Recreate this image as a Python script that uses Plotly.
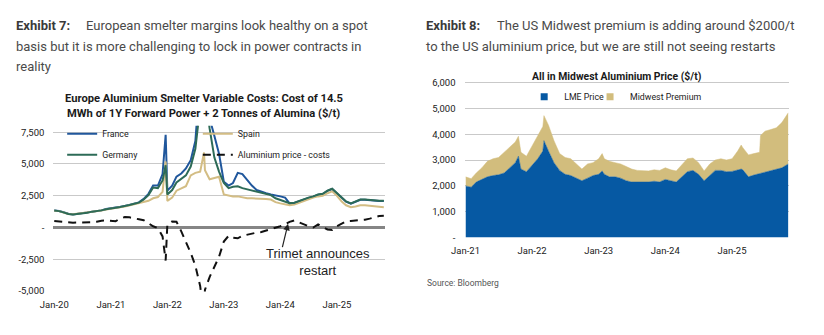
import plotly.graph_objects as go

# ---------- Exhibit 7: European smelter variable costs ($/t) ----------
eu_dates = [
    "2020-01-01", "2020-02-01", "2020-03-01", "2020-04-01", "2020-05-01", "2020-06-01",
    "2020-07-01", "2020-08-01", "2020-09-01", "2020-10-01", "2020-11-01", "2020-12-01",
    "2021-01-01", "2021-02-01", "2021-03-01", "2021-04-01", "2021-05-01", "2021-06-01",
    "2021-07-01", "2021-08-01", "2021-09-01", "2021-10-01", "2021-11-01", "2021-12-01",
    "2021-12-21",
    "2022-01-01", "2022-02-01", "2022-03-01", "2022-04-01", "2022-05-01", "2022-06-01",
    "2022-07-01", "2022-08-01", "2022-08-26", "2022-09-01", "2022-10-01", "2022-11-01",
    "2022-12-01",
    "2023-01-01", "2023-02-01", "2023-03-01", "2023-04-01", "2023-05-01", "2023-06-01",
    "2023-07-01", "2023-08-01", "2023-09-01", "2023-10-01", "2023-11-01", "2023-12-01",
    "2024-01-01", "2024-02-01", "2024-03-01", "2024-04-01", "2024-05-01", "2024-06-01",
    "2024-07-01", "2024-08-01", "2024-09-01", "2024-10-01", "2024-11-01", "2024-12-01",
    "2025-01-01", "2025-02-01", "2025-03-01", "2025-04-01", "2025-05-01", "2025-06-01",
    "2025-07-01", "2025-08-01", "2025-09-01", "2025-10-01", "2025-10-31",
]
france = [
    1330, 1300, 1200, 1080, 1030, 1080, 1130, 1180, 1260, 1300, 1350, 1450,
    1530, 1580, 1620, 1680, 1780, 1880, 1980, 2250, 2650, 3300, 3300, 4200,
    7300,
    2900, 3300, 4000, 4250, 4650, 5300, 6800, 11000, 16000, 13000, 8600, 7200,
    5800,
    3600, 3300, 3500, 4300, 4200, 3700, 3300, 2950, 2800, 2700, 2600, 2550,
    2450, 2350, 1900, 1930, 2080, 2180, 2330, 2430, 2580, 2630, 2880, 3030,
    2680, 2280, 2030, 1880, 2030, 2180, 2180, 2130, 2130, 2080, 2080,
]
germany = [
    1330, 1290, 1190, 1070, 1030, 1070, 1120, 1170, 1250, 1290, 1350, 1440,
    1520, 1560, 1610, 1670, 1770, 1870, 1960, 2200, 2550, 3150, 3100, 3700,
    4900,
    2600, 2950, 3550, 3850, 4100, 4800, 6200, 9500, 14000, 10500, 7800, 5500,
    4400,
    3500, 3100, 3200, 3250, 3100, 3000, 2900, 2850, 2750, 2650, 2550, 2300,
    2150, 2000, 1920, 1950, 2100, 2200, 2350, 2450, 2600, 2650, 2900, 3050,
    2700, 2300, 2050, 1900, 2050, 2200, 2200, 2150, 2150, 2100, 2100,
]
spain = [
    1320, 1290, 1180, 1060, 1040, 1080, 1120, 1170, 1230, 1280, 1330, 1420,
    1500, 1560, 1600, 1650, 1740, 1830, 1900, 2050, 2100, 2300, 2400, 2800,
    5200,
    2100, 2350, 2900, 3050, 3250, 4100, 4300, 4400, 5900, 4500, 3800, 3900,
    4000,
    2600, 2500, 2450, 2450, 2350, 2300, 2300, 2300, 2300, 2250, 2200, 2000,
    1900, 1800, 1750, 1800, 1950, 2100, 2250, 2350, 2450, 2500, 2700, 2850,
    2500, 2050, 1750, 1600, 1650, 1750, 1750, 1700, 1700, 1650, 1600,
]
alu_margin = [
    520, 470, 430, 390, 380, 390, 390, 400, 410, 450, 540, 560,
    510, 500, 700, 820, 800, 700, 650, 580, 350, 100, -50, -700,
    -2600,
    250, 480, 450, -300, -1100, -2000, -3000, -4600, -7000, -4900, -3900, -3100,
    -2300,
    -1100, -650, -800, -850, -650, -550, -450, -400, -350, -250, -130, -50,
    100, 250, 450, 560, 400, 250, 100, 0, 250, 50, -150, -200,
    100, 300, 500, 520, 550, 580, 620, 700, 820, 900, 920,
]
eu_ticks = ["2020-01-01", "2021-01-01", "2022-01-01", "2023-01-01", "2024-01-01", "2025-01-01"]
eu_tick_text = ["Jan-20", "Jan-21", "Jan-22", "Jan-23", "Jan-24", "Jan-25"]
eu_y_ticks = [-5000, -2500, 0, 2500, 5000, 7500]
eu_y_text = ["-5,000", "-2,500", "-", "2,500", "5,000", "7,500"]

# ---------- Exhibit 8: all-in Midwest aluminium price ($/t) ----------
us_dates = [
    "2021-01-01", "2021-02-01", "2021-03-01", "2021-04-01", "2021-05-01", "2021-06-01",
    "2021-07-01", "2021-08-01", "2021-09-01", "2021-10-01", "2021-10-18", "2021-11-01",
    "2021-12-01",
    "2022-01-01", "2022-02-01", "2022-03-01", "2022-03-07", "2022-04-01", "2022-05-01",
    "2022-06-01", "2022-07-01", "2022-08-01", "2022-09-01", "2022-10-01", "2022-11-01",
    "2022-12-01",
    "2023-01-01", "2023-01-20", "2023-02-01", "2023-03-01", "2023-04-01", "2023-05-01",
    "2023-06-01", "2023-07-01", "2023-08-01", "2023-09-01", "2023-10-01", "2023-11-01",
    "2023-12-01",
    "2024-01-01", "2024-02-01", "2024-03-01", "2024-04-01", "2024-05-01", "2024-06-01",
    "2024-07-01", "2024-08-01", "2024-09-01", "2024-10-01", "2024-11-01", "2024-12-01",
    "2025-01-01", "2025-02-01", "2025-02-20", "2025-03-01", "2025-04-01", "2025-05-01",
    "2025-06-01", "2025-06-06", "2025-07-01", "2025-08-01", "2025-09-01", "2025-10-01",
    "2025-11-05",
]
lme_price = [
    2000, 1950, 2150, 2250, 2350, 2400, 2430, 2500, 2700, 2900, 3150, 2650,
    2550,
    2800, 3050, 3350, 3750, 3350, 2900, 2600, 2450, 2400, 2300, 2200, 2300,
    2400,
    2450, 2580, 2450, 2350, 2350, 2300, 2200, 2150, 2150, 2150, 2150, 2180,
    2150,
    2250, 2200, 2150, 2350, 2550, 2600, 2450, 2200, 2400, 2600, 2600, 2550,
    2560, 2620, 2650, 2620, 2350, 2420, 2480, 2500, 2550, 2600, 2650, 2700,
    2850,
]
midwest_premium = [
    350, 330, 350, 450, 600, 650, 670, 800, 800, 800, 770, 650,
    600,
    750, 900, 950, 970, 1000, 850, 650, 650, 650, 550, 450, 550,
    500,
    600, 670, 600, 600, 550, 550, 550, 500, 450, 450, 430, 440,
    450,
    450, 420, 430, 450, 500, 480, 450, 380, 450, 400, 450, 450,
    490, 730, 930, 860, 850, 830, 820, 1450, 1570, 1580, 1600, 1750,
    1980,
]
us_ticks = ["2021-01-01", "2022-01-01", "2023-01-01", "2024-01-01", "2025-01-01"]
us_tick_text = ["Jan-21", "Jan-22", "Jan-23", "Jan-24", "Jan-25"]
us_y_ticks = [0, 1000, 2000, 3000, 4000, 5000, 6000]
us_y_text = ["-", "1,000", "2,000", "3,000", "4,000", "5,000", "6,000"]

W, H = 824, 335
NARROW = "Liberation Sans Narrow, Arial Narrow, Roboto, sans-serif"
BODY = "Roboto, Liberation Sans, sans-serif"
ARIAL = "Liberation Sans, Arial, sans-serif"

C_FRANCE = "#20579C"
C_GERMANY = "#2D6B57"
C_SPAIN = "#D3BD84"
C_LME = "#0659A3"
C_PREM = "#D2BD7D"
GRID = "#C9C9C9"


def px(x):
    return x / W


def py(y):
    return 1 - y / H


fig = go.Figure()

# European cost lines
for name, vals, color, leg in [
    ("France", france, C_FRANCE, "legend"),
    ("Spain", spain, C_SPAIN, "legend2"),
    ("Germany", germany, C_GERMANY, "legend"),
]:
    fig.add_trace(go.Scatter(
        x=eu_dates, y=vals, name=name, mode="lines",
        line=dict(color=color, width=2), legend=leg, legendgroup=name,
        xaxis="x", yaxis="y",
    ))
fig.add_trace(go.Scatter(
    x=eu_dates, y=alu_margin, name="Aluminium price - costs", mode="lines",
    line=dict(color="#111111", width=2, dash="8px,6px"), legend="legend2",
    legendgroup="margin", xaxis="x", yaxis="y",
))

# US stacked areas
fig.add_trace(go.Scatter(
    x=us_dates, y=lme_price, name="LME Price", mode="lines", stackgroup="us",
    line=dict(color=C_LME, width=0.5), fillcolor=C_LME, showlegend=False,
    xaxis="x2", yaxis="y2",
))
fig.add_trace(go.Scatter(
    x=us_dates, y=midwest_premium, name="Midwest Premium", mode="lines", stackgroup="us",
    line=dict(color=C_PREM, width=0.5), fillcolor=C_PREM, showlegend=False,
    xaxis="x2", yaxis="y2",
))
# square swatches for the area legend, one legend box each
for name, color, leg in [("LME Price", C_LME, "legend3"), ("Midwest Premium", C_PREM, "legend4")]:
    fig.add_trace(go.Scatter(
        x=[None], y=[None], name=name, mode="markers",
        marker=dict(symbol="square", size=7, color=color),
        legend=leg, xaxis="x2", yaxis="y2",
    ))

tick_font = dict(family=NARROW, size=9.5, color="#222222")
leg_font = dict(family=NARROW, size=8.8, color="#222222")
clear = "rgba(0,0,0,0)"

fig.update_layout(
    width=W, height=H, autosize=False,
    margin=dict(l=0, r=0, t=0, b=0),
    paper_bgcolor="white", plot_bgcolor="white",
    font=dict(family=NARROW, size=10, color="#222222"),
    showlegend=True,
    xaxis=dict(
        domain=[px(40), px(377)], anchor="y", type="date",
        range=["2019-12-26", "2025-11-05"],
        tickvals=eu_ticks, ticktext=eu_tick_text, tickfont=tick_font,
        showgrid=False, showline=False, zeroline=False, ticks="",
        ticklabelstandoff=6,
    ),
    yaxis=dict(
        domain=[py(295.4), py(125.2)], anchor="x", range=[-5030, 8000],
        tickvals=eu_y_ticks, ticktext=eu_y_text, tickfont=tick_font,
        showgrid=True, gridcolor=GRID, gridwidth=1,
        zeroline=True, zerolinecolor="#858585", zerolinewidth=2.5,
        showline=False, ticks="", ticklabelstandoff=8,
    ),
    xaxis2=dict(
        domain=[px(459.3), px(788)], anchor="y2", type="date",
        range=["2021-01-01", "2025-11-07"],
        tickvals=us_ticks, ticktext=us_tick_text, tickfont=tick_font,
        showgrid=False, showline=False, zeroline=False, ticks="",
        ticklabelstandoff=6,
    ),
    yaxis2=dict(
        domain=[py(240), py(79.4)], anchor="x2", range=[0, 6050],
        tickvals=us_y_ticks, ticktext=us_y_text, tickfont=tick_font,
        showgrid=True, gridcolor=GRID, gridwidth=1,
        zeroline=False, showline=False, ticks="", ticklabelstandoff=9,
    ),
    legend=dict(
        x=px(49), y=py(118.5), xanchor="left", yanchor="top",
        bgcolor=clear, font=leg_font, tracegroupgap=2, itemwidth=30,
    ),
    legend2=dict(
        x=px(187), y=py(118.5), xanchor="left", yanchor="top",
        bgcolor=clear, font=leg_font, tracegroupgap=2, itemwidth=30,
    ),
    legend3=dict(
        x=px(519), y=py(80.5), xanchor="left", yanchor="top",
        bgcolor=clear, font=leg_font, itemwidth=30,
    ),
    legend4=dict(
        x=px(586), y=py(80.5), xanchor="left", yanchor="top",
        bgcolor=clear, font=leg_font, itemwidth=30,
    ),
)

annotations = []


def text(x, y, s, size, family=BODY, color="#4a4a4a", anchor="left"):
    annotations.append(dict(
        x=px(x), y=py(y), xref="paper", yref="paper", text=s, showarrow=False,
        xanchor=anchor, yanchor="middle", font=dict(family=family, size=size, color=color),
    ))


# Exhibit headings
text(0, 21.7, "<b>Exhibit 7:</b>", 13, color="#3a3a3a")
text(71, 21.7, "European smelter margins look healthy on a spot", 13)
text(0, 43.3, "basis but it is more challenging to lock in power contracts in", 13)
text(0, 64.3, "reality", 13)
text(417, 21.7, "<b>Exhibit 8:</b>", 13, color="#3a3a3a")
text(489, 21.7, "The US Midwest premium is adding around $2000/t", 13)
text(417, 43.3, "to the US aluminium price, but we are still not seeing restarts", 13)

# Chart titles
text(193, 96.7, "<b>Europe Aluminium Smelter Variable Costs: Cost of 14.5</b>", 11.2,
     family=NARROW, color="#1a1a1a", anchor="center")
text(193, 113, "<b>MWh of 1Y Forward Power + 2 Tonnes of Alumina ($/t)</b>", 11.2,
     family=NARROW, color="#1a1a1a", anchor="center")
text(613, 74.3, "<b>All in Midwest Aluminium Price ($/t)</b>", 10.4,
     family=NARROW, color="#1a1a1a", anchor="center")

# Restart callout
text(309, 265.5, "Trimet announces<br>restart", 13, family=ARIAL, color="#222222",
     anchor="center")
annotations.append(dict(
    x="2024-02-20", y=300, xref="x", yref="y", text="", showarrow=True,
    ax=-6, ay=25, axref="pixel", ayref="pixel",
    arrowhead=2, arrowsize=1.1, arrowwidth=1.2, arrowcolor="#222222",
))

# Source line
text(418, 286.7, "Source: Bloomberg", 8.5, color="#555555")

fig.update_layout(annotations=annotations)
fig.write_html("out.html")
